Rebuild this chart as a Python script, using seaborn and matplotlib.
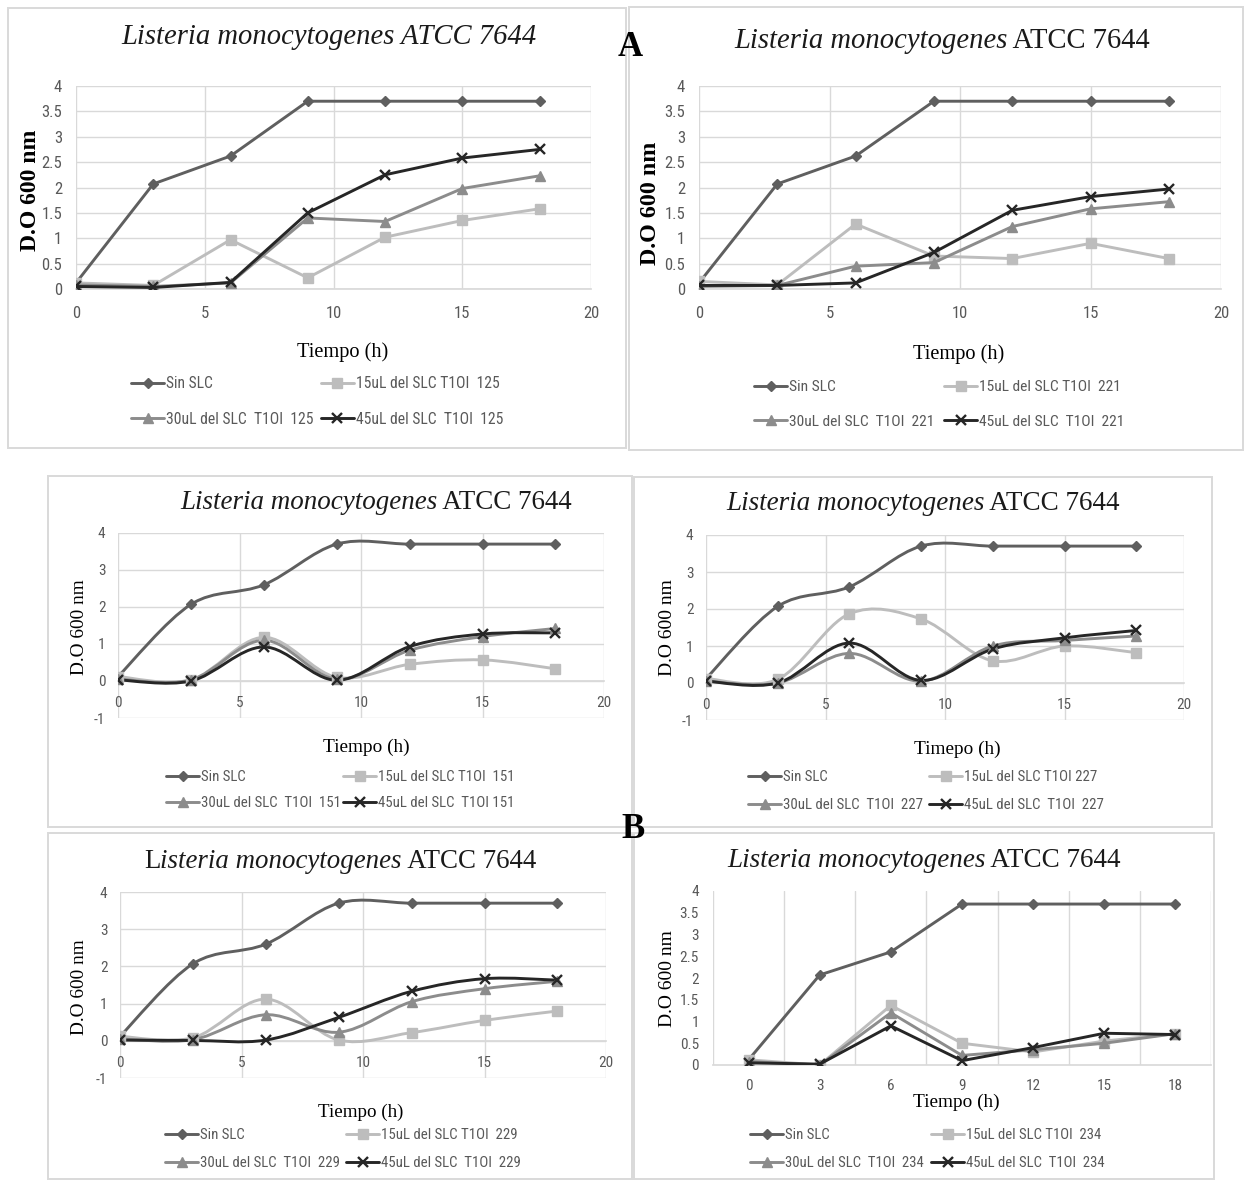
import numpy as np
import matplotlib
matplotlib.use("Agg")
import matplotlib.pyplot as plt
import seaborn as sns
from matplotlib import font_manager as fm
from matplotlib.font_manager import FontProperties
from matplotlib.path import Path
from matplotlib.patches import PathPatch, Rectangle
from matplotlib.lines import Line2D
from matplotlib.ticker import FixedLocator

W, H = 1244, 1180
DPI = 100

# ---------------- data ----------------
hours = [0, 3, 6, 9, 12, 15, 18]

sin_125 = [0.12, 2.07, 2.62, 3.70, 3.70, 3.70, 3.70]
ul15_125 = [0.12, 0.07, 0.97, 0.22, 1.02, 1.35, 1.58]
ul30_125 = [0.08, 0.05, 0.12, 1.40, 1.33, 1.98, 2.23]
ul45_125 = [0.05, 0.03, 0.13, 1.50, 2.25, 2.58, 2.75]

sin_221 = [0.12, 2.07, 2.62, 3.70, 3.70, 3.70, 3.70]
ul15_221 = [0.15, 0.08, 1.28, 0.65, 0.60, 0.90, 0.60]
ul30_221 = [0.05, 0.07, 0.45, 0.52, 1.23, 1.58, 1.72]
ul45_221 = [0.07, 0.07, 0.12, 0.72, 1.55, 1.82, 1.97]

sin_151 = [0.12, 2.07, 2.60, 3.70, 3.70, 3.70, 3.70]
ul15_151 = [0.12, 0.03, 1.18, 0.10, 0.45, 0.57, 0.33]
ul30_151 = [0.05, 0.03, 1.10, 0.05, 0.83, 1.20, 1.42]
ul45_151 = [0.03, 0.00, 0.92, 0.02, 0.93, 1.27, 1.30]

sin_227 = [0.12, 2.07, 2.60, 3.70, 3.70, 3.70, 3.70]
ul15_227 = [0.12, 0.10, 1.87, 1.73, 0.60, 1.00, 0.82]
ul30_227 = [0.05, 0.00, 0.80, 0.05, 1.00, 1.15, 1.27]
ul45_227 = [0.05, 0.00, 1.08, 0.07, 0.92, 1.22, 1.42]

sin_229 = [0.12, 2.07, 2.60, 3.70, 3.70, 3.70, 3.70]
ul15_229 = [0.12, 0.08, 1.12, 0.02, 0.22, 0.55, 0.80]
ul30_229 = [0.05, 0.03, 0.70, 0.23, 1.05, 1.40, 1.60]
ul45_229 = [0.02, 0.01, 0.02, 0.63, 1.33, 1.67, 1.63]

sin_234 = [0.12, 2.07, 2.60, 3.70, 3.70, 3.70, 3.70]
ul15_234 = [0.12, 0.00, 1.37, 0.50, 0.30, 0.55, 0.72]
ul30_234 = [0.08, 0.00, 1.20, 0.22, 0.35, 0.50, 0.72]
ul45_234 = [0.05, 0.02, 0.90, 0.10, 0.40, 0.73, 0.70]

labels_125 = ["Sin SLC", "15uL del SLC T1OI  125", "30uL del SLC  T1OI  125", "45uL del SLC  T1OI  125"]
labels_221 = ["Sin SLC", "15uL del SLC T1OI  221", "30uL del SLC  T1OI  221", "45uL del SLC  T1OI  221"]
labels_151 = ["Sin SLC", "15uL del SLC T1OI  151", "30uL del SLC  T1OI  151", "45uL del SLC  T1OI 151"]
labels_227 = ["Sin SLC", "15uL del SLC T1OI 227", "30uL del SLC  T1OI  227", "45uL del SLC  T1OI  227"]
labels_229 = ["Sin SLC", "15uL del SLC T1OI  229", "30uL del SLC  T1OI  229", "45uL del SLC  T1OI  229"]
labels_234 = ["Sin SLC", "15uL del SLC T1OI  234", "30uL del SLC  T1OI  234", "45uL del SLC  T1OI  234"]

yticks_fine = [0, 0.5, 1, 1.5, 2, 2.5, 3, 3.5, 4]
yticks_int = [-1, 0, 1, 2, 3, 4]
xticks_num = [0, 5, 10, 15, 20]

# ---------------- style ----------------
sns.set_theme(style="white")
plt.rcParams["font.family"] = ["Liberation Serif", "DejaVu Serif"]
plt.rcParams["axes.unicode_minus"] = False
SERIF = ["Liberation Serif", "DejaVu Serif"]
TICK_C = "#595959"
GRID_C = "#d9d9d9"


def find_narrow_font():
    ents = fm.fontManager.ttflist
    for name in ["Liberation Sans Narrow", "Roboto Condensed", "Open Sans Condensed"]:
        for f in ents:
            if f.name == name and f.style == "normal" and f.weight in (400, "normal", "regular"):
                return f.fname
    for stretch in ["semi-condensed", "condensed"]:
        for name in ["Noto Sans", "Open Sans", "DejaVu Sans", "Roboto", "Inter", "Lato"]:
            for f in ents:
                if (f.name == name and str(f.stretch) == stretch and f.style == "normal"
                        and f.weight in (400, "normal", "regular")):
                    return f.fname
    return None


_nf = find_narrow_font()


def narrow(size):
    if _nf:
        return FontProperties(fname=_nf, size=size)
    return FontProperties(family=["Liberation Sans", "DejaVu Sans"], size=size)


STY = [dict(color="#5f5f5f", marker="D", ms=5.5, mew=1.0, lw=2.1),
       dict(color="#bdbdbd", marker="s", ms=6.5, mew=1.0, lw=2.1),
       dict(color="#8c8c8c", marker="^", ms=7.0, mew=1.0, lw=2.1),
       dict(color="#262626", marker="x", ms=7.5, mew=1.7, lw=2.1)]

fig = plt.figure(figsize=(W / DPI, H / DPI), dpi=DPI)
fig.patch.set_facecolor("white")
renderer = fig.canvas.get_renderer()


def fx(x):
    return x / W


def fy(y):
    return 1 - y / H


def smooth_path(xs, ys):
    pts = np.column_stack([xs, ys]).astype(float)
    n = len(pts)
    verts = [pts[0]]
    codes = [Path.MOVETO]
    for i in range(n - 1):
        p0, p1 = pts[i], pts[i + 1]
        prev = pts[i - 1] if i > 0 else pts[i]
        nxt = pts[i + 2] if i + 2 < n else pts[i + 1]
        c1 = p0 + (p1 - prev) / 6.0
        c2 = p1 - (nxt - p0) / 6.0
        verts += [c1, c2, p1]
        codes += [Path.CURVE4] * 3
    return Path(verts, codes)


def text_width(s, fp):
    t = fig.text(0, 0, s, fontproperties=fp)
    w = t.get_window_extent(renderer).width
    t.remove()
    return w


def fit_text(pieces, cx, cy, target, rotation=0, base=14):
    arts = [fig.text(0, 0, s, fontsize=base, **kw) for s, kw in pieces]
    ws = [a.get_window_extent(renderer).width for a in arts]
    size = base * target / sum(ws)
    for a in arts:
        a.set_fontsize(size)
    ws = [a.get_window_extent(renderer).width for a in arts]
    if rotation:
        a = arts[0]
        a.set_rotation(90)
        a.set_ha("center")
        a.set_va("center")
        a.set_position((fx(cx), fy(cy)))
        return
    x = cx - sum(ws) / 2
    by = cy + 0.34 * size * DPI / 72
    for a, w in zip(arts, ws):
        a.set_ha("left")
        a.set_va("baseline")
        a.set_position((fx(x), fy(by)))
        x += w


IT = dict(family=SERIF, style="italic", color="#1a1a1a")
UP = dict(family=SERIF, color="#1a1a1a")

panels = [
    dict(series=[sin_125, ul15_125, ul30_125, ul45_125], labels=labels_125, smooth=False, mode="fine",
         ax_px=(76, 86, 591, 289), box=(8, 8, 626, 448),
         title=[("Listeria monocytogenes ATCC 7644", IT)], tc=(329, 34), tw=415,
         xlabel="Tiempo (h)", xc=(343, 350), xw=92, yc=(31, 190), yw=122, ybold=True,
         leg=(131, 321, 384, 419), lw_target=147, tfs=12),
    dict(series=[sin_221, ul15_221, ul30_221, ul45_221], labels=labels_221, smooth=False, mode="fine",
         ax_px=(699, 86, 1221, 289), box=(629, 7, 1243, 450),
         title=[("Listeria monocytogenes", IT), (" ATCC 7644", UP)], tc=(942, 38), tw=417,
         xlabel="Tiempo (h)", xc=(959, 352), xw=92, yc=(650, 203), yw=124, ybold=True,
         leg=(754, 944, 387, 422), lw_target=145, tfs=12),
    dict(series=[sin_151, ul15_151, ul30_151, ul45_151], labels=labels_151, smooth=True, mode="int",
         ax_px=(118, 533, 604, 718), box=(48, 476, 632, 827),
         title=[("Listeria monocytogenes", IT), (" ATCC 7644", UP)], tc=(376, 500), tw=393,
         xlabel="Tiempo (h)", xc=(366, 745), xw=87, yc=(80, 627), yw=96, ybold=False,
         leg=(166, 343, 777, 803), lw_target=140, tfs=11),
    dict(series=[sin_227, ul15_227, ul30_227, ul45_227], labels=labels_227, smooth=True, mode="int",
         ax_px=(706, 535, 1184, 720), box=(634, 477, 1212, 827),
         title=[("Listeria monocytogenes", IT), (" ATCC 7644", UP)], tc=(923, 501), tw=394,
         xlabel="Timepo (h)", xc=(957, 747), xw=87, yc=(668, 628), yw=97, ybold=False,
         leg=(748, 929, 777, 805), lw_target=140, tfs=11),
    dict(series=[sin_229, ul15_229, ul30_229, ul45_229], labels=labels_229, smooth=True, mode="int",
         ax_px=(120, 892, 606, 1078), box=(48, 833, 632, 1179),
         title=[("L", UP), ("isteria monocytogenes", IT), (" ATCC 7644", UP)], tc=(340, 859), tw=393,
         xlabel="Tiempo (h)", xc=(361, 1110), xw=86, yc=(80, 987), yw=96, ybold=False,
         leg=(165, 346, 1135, 1163), lw_target=140, tfs=11),
    dict(series=[sin_234, ul15_234, ul30_234, ul45_234], labels=labels_234, smooth=False, mode="cat",
         ax_px=(713, 891, 1211, 1065), box=(634, 833, 1214, 1179),
         title=[("Listeria monocytogenes", IT), (" ATCC 7644", UP)], tc=(924, 858), tw=395,
         xlabel="Tiempo (h)", xc=(956, 1100), xw=87, yc=(667, 979), yw=97, ybold=False,
         leg=(750, 931, 1135, 1163), lw_target=139, tfs=11),
]

for p in panels:
    # chart area border
    x0, y0, x1, y1 = p["box"]
    fig.patches.append(Rectangle((fx(x0), fy(y1)), (x1 - x0) / W, (y1 - y0) / H,
                                 transform=fig.transFigure, fill=False,
                                 edgecolor=GRID_C, linewidth=1.4, zorder=0))

    l, t, r, b = p["ax_px"]
    ax = fig.add_axes([fx(l), fy(b), (r - l) / W, (b - t) / H])
    ax.set_facecolor("none")

    for vals, st in zip(p["series"], STY):
        if p["smooth"]:
            ax.add_patch(PathPatch(smooth_path(hours, vals), facecolor="none",
                                   edgecolor=st["color"], linewidth=st["lw"],
                                   capstyle="round", joinstyle="round", zorder=3))
            lw = 0
        else:
            lw = st["lw"]
        sns.lineplot(x=hours, y=vals, ax=ax, color=st["color"], marker=st["marker"],
                     markersize=st["ms"], markeredgecolor=st["color"],
                     markeredgewidth=st["mew"], linewidth=lw, legend=False, zorder=4)

    for s in ax.spines.values():
        s.set_visible(False)
    ax.tick_params(length=0)

    if p["mode"] == "fine":
        ax.set_xlim(0, 20)
        ax.set_ylim(0, 4)
        ax.set_xticks(xticks_num)
        ax.set_xticklabels([str(v) for v in xticks_num])
        ax.set_yticks(yticks_fine)
        ax.set_yticklabels(["%g" % v for v in yticks_fine])
        ax.grid(True, color=GRID_C, linewidth=1.0)
        ax.spines["bottom"].set_visible(True)
        ax.spines["bottom"].set_color(GRID_C)
        ax.tick_params(axis="x", pad=12)
        ax.tick_params(axis="y", pad=10)
    elif p["mode"] == "int":
        ax.set_xlim(0, 20)
        ax.set_ylim(-1, 4)
        ax.set_xticks(xticks_num)
        ax.set_xticklabels([str(v) for v in xticks_num])
        ax.set_yticks(yticks_int)
        ax.set_yticklabels(["%g" % v for v in yticks_int])
        ax.grid(True, color=GRID_C, linewidth=1.0)
        ax.spines["bottom"].set_visible(True)
        ax.spines["bottom"].set_position(("data", 0))
        ax.spines["bottom"].set_color(GRID_C)
        ax.tick_params(axis="x", pad=11)
        ax.tick_params(axis="y", pad=9)
    else:
        ax.set_xlim(hours[0] - 1.5, hours[-1] + 1.5)
        ax.set_ylim(0, 4)
        ax.set_xticks(hours)
        ax.set_xticklabels([str(h) for h in hours])
        ax.set_yticks(yticks_fine)
        ax.set_yticklabels(["%g" % v for v in yticks_fine])
        ax.xaxis.set_minor_locator(FixedLocator([h - 1.5 for h in hours] + [hours[-1] + 1.5]))
        ax.grid(False)
        ax.grid(True, which="minor", axis="x", color=GRID_C, linewidth=1.0)
        ax.spines["bottom"].set_visible(True)
        ax.spines["bottom"].set_color(GRID_C)
        ax.tick_params(axis="x", pad=10)
        ax.tick_params(axis="y", pad=10)
    for lab in ax.get_xticklabels() + ax.get_yticklabels():
        lab.set_fontproperties(narrow(p["tfs"]))
        lab.set_color(TICK_C)
    ax.set_xlabel("")
    ax.set_ylabel("")

    # titles and axis labels
    fit_text(p["title"], p["tc"][0], p["tc"][1], p["tw"], base=16)
    fit_text([(p["xlabel"], dict(family=SERIF, color="black"))], p["xc"][0], p["xc"][1], p["xw"], base=14)
    fit_text([("D.O 600 nm", dict(family=SERIF, color="black",
                                  weight="bold" if p["ybold"] else "normal"))],
             p["yc"][0], p["yc"][1], p["yw"], rotation=90, base=14)

    # legend font size fitted to the reference label width
    w10 = text_width(p["labels"][2], narrow(10))
    lfs = min(12.0, 10.0 * p["lw_target"] / w10)
    hs = []
    for st in STY:
        hs.append(Line2D([], [], color=st["color"], marker=st["marker"], markersize=st["ms"],
                         markeredgecolor=st["color"], markeredgewidth=st["mew"], linewidth=st["lw"]))
    lx1, lx2, ly1, ly2 = p["leg"]
    fs_px = lfs * DPI / 72
    spacing = max((ly2 - ly1) / fs_px - 0.95, 0.1)
    hl = 33.0 / fs_px
    for idxs, lx in (([0, 2], lx1), ([1, 3], lx2)):
        fig.legend([hs[i] for i in idxs], [p["labels"][i] for i in idxs],
                   loc="center left", bbox_to_anchor=(fx(lx), fy((ly1 + ly2) / 2)),
                   bbox_transform=fig.transFigure, frameon=False, ncol=1,
                   prop=narrow(lfs), labelcolor=TICK_C,
                   handlelength=hl, handletextpad=0.15, labelspacing=spacing,
                   borderpad=0, borderaxespad=0)

# panel letters
fig.text(fx(630), fy(48), "A", family=SERIF, weight="bold", fontsize=25,
         ha="center", va="center", color="black")
fig.text(fx(633), fy(830), "B", family=SERIF, weight="bold", fontsize=25,
         ha="center", va="center", color="black")

fig.savefig("out.png", dpi=DPI, facecolor="white")
